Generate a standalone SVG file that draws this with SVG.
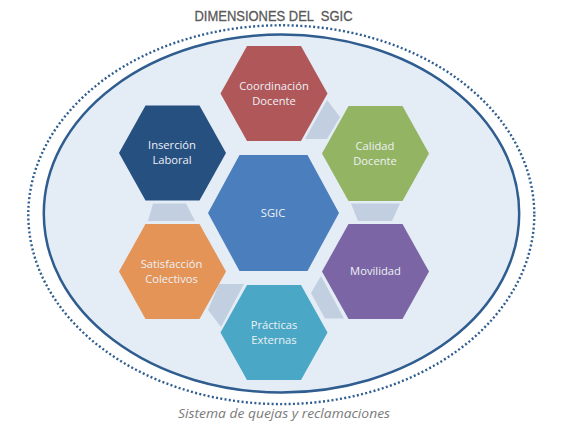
<svg xmlns="http://www.w3.org/2000/svg" width="567" height="434" viewBox="0 0 567 434">
<style>
.lbl{font-family:"Open Sans","Noto Sans","Liberation Sans",sans-serif;font-size:11.2px;fill:#eef1f6;text-anchor:middle}
.con{fill:#c1cfe0}
</style>
<rect width="567" height="434" fill="#ffffff"/>
<text x="273.5" y="20.5" font-family="'Liberation Sans',Arial,sans-serif" font-size="14" fill="#595959" stroke="#595959" stroke-width="0.3" text-anchor="middle" textLength="158" lengthAdjust="spacingAndGlyphs" xml:space="preserve">DIMENSIONES DEL  SGIC</text>
<ellipse cx="281.3" cy="214.7" rx="253" ry="189.4" fill="none" stroke="#2f5d8f" stroke-width="2.4" stroke-dasharray="2 2.3"/>
<ellipse cx="281.5" cy="213.5" rx="237.7" ry="179" fill="#e4edf6" stroke="#2f5d8f" stroke-width="2.5"/>
<g id="connectors">
<polygon class="con" points="327,100 340,117 327,139 305,139"/>
<polygon class="con" points="351,203.5 400,203.5 392,221 358,221"/>
<polygon class="con" points="321,276 311,293 325,318.5 344,318.5"/>
<polygon class="con" points="219,284 244,284 221,327 208,310"/>
<polygon class="con" points="153,203.5 186,203.5 195,221 148,221"/>
</g>
<g id="sgic">
<polygon points="208,213 239.5,155 307.5,155 339,213 307.5,271 239.5,271" fill="#4a7ebc"/>
<text class="lbl" x="273" y="217">SGIC</text>
</g>
<g id="coordinacion">
<polygon points="220.5,93.5 247,46 301,46 327.5,93.5 301,141 247,141" fill="#b0575a"/>
<text class="lbl" x="274" y="90">Coordinación</text>
<text class="lbl" x="274" y="104.5">Docente</text>
</g>
<g id="calidad">
<polygon points="322,153.5 348.5,106 402.5,106 429,153.5 402.5,201 348.5,201" fill="#93b563"/>
<text class="lbl" x="375" y="149.5">Calidad</text>
<text class="lbl" x="375" y="164.5">Docente</text>
</g>
<g id="movilidad">
<polygon points="322,271.5 348.5,224 402.5,224 429,271.5 402.5,319 348.5,319" fill="#7b65a4"/>
<text class="lbl" x="375.5" y="275">Movilidad</text>
</g>
<g id="practicas">
<polygon points="220.5,332.5 247,285 301,285 327.5,332.5 301,380 247,380" fill="#4aa7c5"/>
<text class="lbl" x="274" y="329">Prácticas</text>
<text class="lbl" x="274" y="344">Externas</text>
</g>
<g id="satisfaccion">
<polygon points="119,271.5 145.5,224 199.5,224 226,271.5 199.5,319 145.5,319" fill="#e49457"/>
<text class="lbl" x="171.5" y="268">Satisfacción</text>
<text class="lbl" x="171.5" y="283">Colectivos</text>
</g>
<g id="insercion">
<polygon points="119,153 145.5,105.5 199.5,105.5 226,153 199.5,200.5 145.5,200.5" fill="#265080"/>
<text class="lbl" x="172" y="149">Inserción</text>
<text class="lbl" x="172" y="164">Laboral</text>
</g>
<text x="284" y="418" font-family="'Open Sans','Noto Sans',sans-serif" font-style="italic" font-size="13.2" fill="#7a7a7a" text-anchor="middle" textLength="212" lengthAdjust="spacingAndGlyphs">Sistema de quejas y reclamaciones</text>
</svg>
